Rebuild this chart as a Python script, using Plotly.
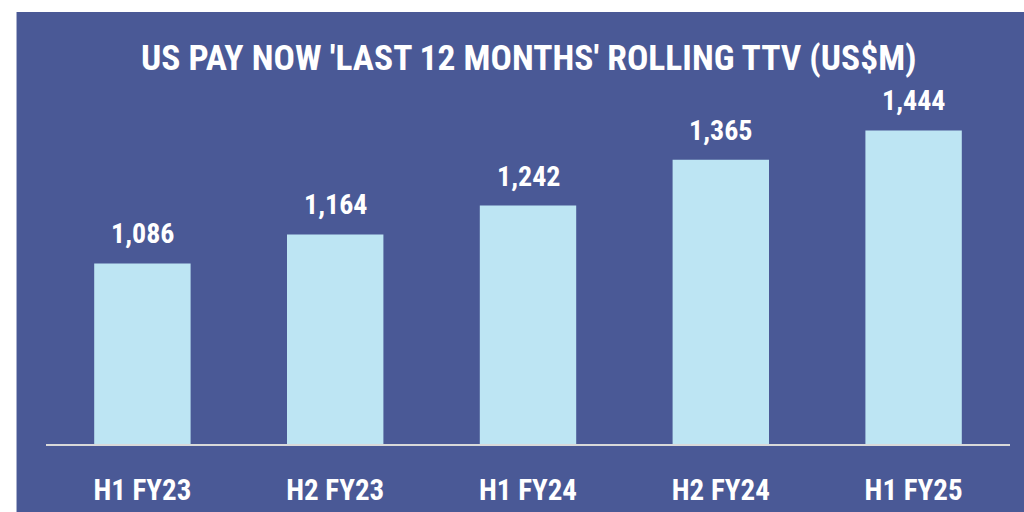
import plotly.graph_objects as go

categories = ["H1 FY23", "H2 FY23", "H1 FY24", "H2 FY24", "H1 FY25"]
ttv_values = [1086, 1164, 1242, 1365, 1444]
value_labels = ["1,086", "1,164", "1,242", "1,365", "1,444"]

BG = "#4a5996"
BAR = "#bde5f3"
FONT = "Roboto Condensed, DejaVu Sans Condensed, Roboto, sans-serif"

L, R, T, B = 45.5, 13.5, 100, 68
W, H = 1024, 512
pw, ph = W - L - R, H - T - B

def px_x(x):
    return (x - L) / pw

def px_y(y):
    return (H - B - y) / ph

fig = go.Figure()
fig.add_trace(go.Bar(
    x=categories, y=ttv_values, marker=dict(color=BAR, line=dict(width=0)),
    width=0.5, base=0, hoverinfo="skip",
))

for c, v, t in zip(categories, ttv_values, value_labels):
    fig.add_annotation(x=c, y=v, text=f"<b>{t}</b>", showarrow=False, yanchor="bottom",
                       yshift=11, font=dict(family=FONT, size=28, color="white"))

fig.add_annotation(x=px_x(529), y=px_y(58), xref="paper", yref="paper",
                   xanchor="center", yanchor="middle",
                   text="<b>US PAY NOW 'LAST 12 MONTHS' ROLLING TTV (US$M)</b>",
                   showarrow=False, font=dict(family=FONT, size=35.5, color="white"))

fig.add_shape(type="rect", xref="paper", yref="paper", layer="below",
              x0=px_x(16), x1=px_x(1060), y0=px_y(560), y1=px_y(12),
              fillcolor=BG, line=dict(width=0))

fig.update_layout(
    width=W, height=H, margin=dict(l=L, r=R, t=T, b=B, pad=0, autoexpand=False),
    paper_bgcolor="white", plot_bgcolor="rgba(0,0,0,0)",
    showlegend=False, bargap=0.5,
    xaxis=dict(showline=True, linecolor="#d9d9d9", linewidth=2, ticks="",
               tickfont=dict(family=FONT, size=29, color="white", weight="bold"),
               ticklabelstandoff=19, showgrid=False, zeroline=False, automargin=False),
    yaxis=dict(range=[600, 600 + ph / 0.3715], visible=False, showgrid=False,
               zeroline=False, automargin=False),
)

fig.write_html("out.html", config={"displayModeBar": False},
               post_script="document.body.style.margin='0';")
